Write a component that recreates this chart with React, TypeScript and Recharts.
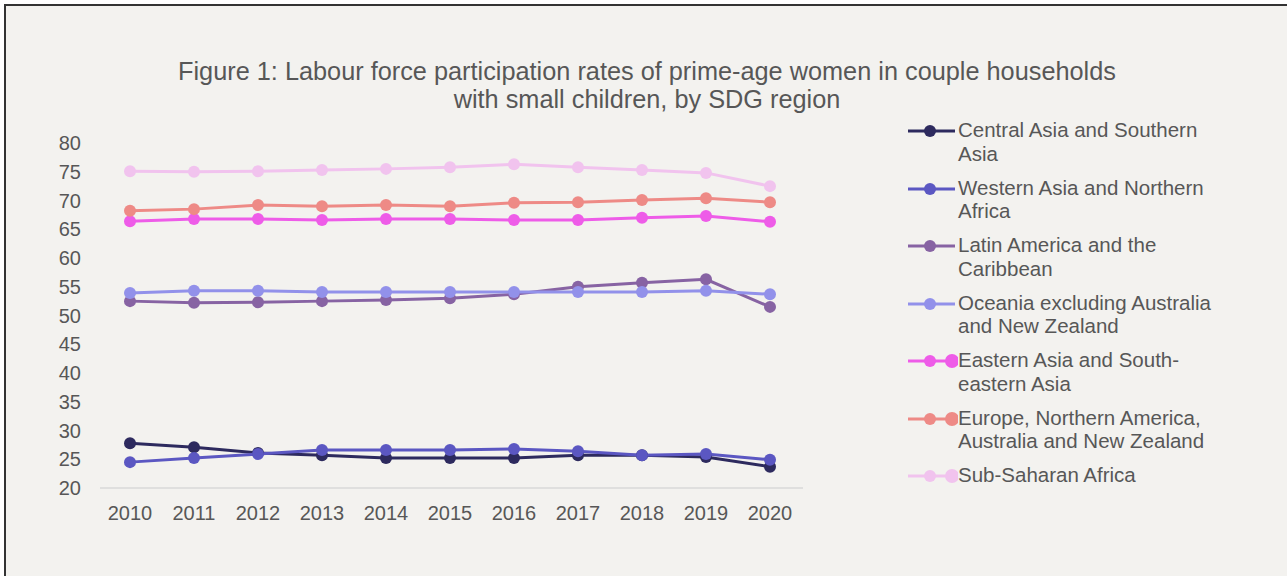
import { LineChart, Line, XAxis, YAxis } from "recharts";

const years = ["2010", "2011", "2012", "2013", "2014", "2015", "2016", "2017", "2018", "2019", "2020"];

const centralSouthAsia = [27.8, 27.1, 26.1, 25.7, 25.2, 25.2, 25.2, 25.7, 25.7, 25.4, 23.7];
const westernAsiaNAfrica = [24.5, 25.2, 25.9, 26.6, 26.6, 26.6, 26.8, 26.4, 25.7, 25.9, 24.9];
const latinAmerica = [52.5, 52.2, 52.3, 52.5, 52.7, 53.0, 53.7, 55.0, 55.7, 56.3, 51.5];
const oceania = [53.9, 54.3, 54.3, 54.1, 54.1, 54.1, 54.1, 54.1, 54.1, 54.3, 53.7];
const easternAsia = [66.4, 66.8, 66.8, 66.6, 66.8, 66.8, 66.6, 66.6, 67.0, 67.3, 66.3];
const europeNAmerica = [68.2, 68.5, 69.2, 69.0, 69.2, 69.0, 69.6, 69.7, 70.1, 70.4, 69.7];
const subSaharan = [75.1, 75.0, 75.1, 75.3, 75.5, 75.8, 76.3, 75.8, 75.3, 74.8, 72.5];

const yTicks = [20, 25, 30, 35, 40, 45, 50, 55, 60, 65, 70, 75, 80];

const series = [
  { key: "csa", name: "Central Asia and Southern Asia", values: centralSouthAsia, color: "#2d2a5e" },
  { key: "wana", name: "Western Asia and Northern Africa", values: westernAsiaNAfrica, color: "#5b57c2" },
  { key: "lac", name: "Latin America and the Caribbean", values: latinAmerica, color: "#8763a3" },
  { key: "oce", name: "Oceania excluding Australia and New Zealand", values: oceania, color: "#9291ea" },
  { key: "esea", name: "Eastern Asia and South-eastern Asia", values: easternAsia, color: "#ee5ce8" },
  { key: "euna", name: "Europe, Northern America, Australia and New Zealand", values: europeNAmerica, color: "#ee8a86" },
  { key: "ssa", name: "Sub-Saharan Africa", values: subSaharan, color: "#f1c3ee" },
];

// legend text is wrapped by hand like the original
const legendLines = [
  ["Central Asia and Southern", "Asia"],
  ["Western Asia and Northern", "Africa"],
  ["Latin America and the", "Caribbean"],
  ["Oceania excluding Australia", "and New Zealand"],
  ["Eastern Asia and South-", "eastern Asia"],
  ["Europe, Northern America,", "Australia and New Zealand"],
  ["Sub-Saharan Africa"],
];
const legendExtraDot = [false, false, false, false, true, true, true];

const data = years.map((y, i) => {
  const row: Record<string, string | number> = { year: y };
  series.forEach((s) => (row[s.key] = s.values[i]));
  return row;
});

const font = '"Liberation Sans", Arial, sans-serif';
const textColor = "#575757";

export default function App() {
  return (
    <div style={{ position: "absolute", left: 0, top: 0, width: 1287, height: 576, background: "#fff", fontFamily: font }}>
      <div
        style={{
          position: "absolute",
          left: 4,
          top: 4,
          width: 1283,
          height: 572,
          background: "#f3f2ef",
          borderTop: "2px solid #333",
          borderLeft: "2px solid #333",
          boxSizing: "border-box",
        }}
      />
      <div
        style={{
          position: "absolute",
          left: 0,
          top: 57,
          width: 1294,
          textAlign: "center",
          fontSize: 25.3,
          lineHeight: "28px",
          color: textColor,
        }}
      >
        Figure 1: Labour force participation rates of prime-age women in couple households
        <br />
        with small children, by SDG region
      </div>

      <div style={{ position: "absolute", left: 0, top: 0 }}>
        <LineChart width={1287} height={576} data={data} margin={{ top: 143, right: 484, bottom: 58, left: 30 }}>
          <XAxis
            dataKey="year"
            height={30}
            padding={{ left: 30, right: 33 }}
            tickLine={false}
            axisLine={{ stroke: "#d9d9d9", strokeWidth: 1.5 }}
            tick={{ fill: textColor, fontSize: 20, fontFamily: font }}
            tickMargin={12}
            interval={0}
          />
          <YAxis
            domain={[20, 80]}
            ticks={yTicks}
            width={70}
            axisLine={false}
            tickLine={false}
            tick={{ fill: textColor, fontSize: 20, fontFamily: font }}
            tickMargin={13}
            interval={0}
          />
          {series.map((s) => (
            <Line
              key={s.key}
              dataKey={s.key}
              name={s.name}
              type="linear"
              stroke={s.color}
              strokeWidth={3}
              dot={{ r: 6, fill: s.color, stroke: s.color, strokeWidth: 0 }}
              activeDot={false}
              isAnimationActive={false}
            />
          ))}
        </LineChart>
      </div>

      <div style={{ position: "absolute", left: 908, top: 118 }}>
        {series.map((s, i) => (
          <div key={s.key} style={{ position: "relative", height: 57.5 }}>
            <svg width={50} height={20} style={{ position: "absolute", left: 0, top: 3 }}>
              <line x1={0} y1={10} x2={47} y2={10} stroke={s.color} strokeWidth={3} />
              <circle cx={22} cy={10} r={6} fill={s.color} />
              {legendExtraDot[i] && <circle cx={44} cy={10} r={7} fill={s.color} />}
            </svg>
            <div
              style={{
                position: "absolute",
                left: 50,
                top: 0,
                fontSize: 20.5,
                lineHeight: "23.5px",
                color: textColor,
                whiteSpace: "nowrap",
              }}
            >
              {legendLines[i].map((l, j) => (
                <div key={j}>{l}</div>
              ))}
            </div>
          </div>
        ))}
      </div>
    </div>
  );
}
